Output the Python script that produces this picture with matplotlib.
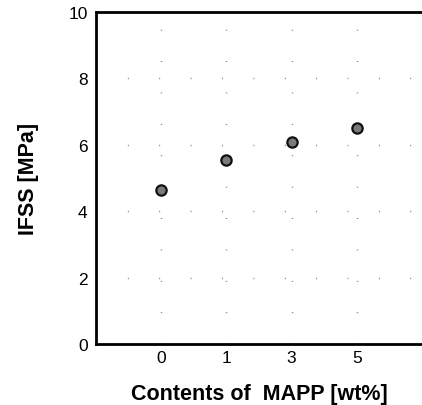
import numpy as np
import matplotlib.pyplot as plt

# data
contents = ['0', '1', '3', '5']
ifss = [4.65, 5.54, 6.09, 6.51]

plt.rcParams['font.family'] = ['Liberation Sans', 'DejaVu Sans']

fig = plt.figure(figsize=(4.22, 4.06), dpi=100)
ax = fig.add_axes([0.2275, 0.150, 0.7725, 0.818])

x = np.arange(len(contents))
ax.scatter(x, ifss, s=55, color='#7a7a7a', edgecolors='#111111', linewidths=1.6, zorder=3)

ax.set_xlim(-1, 4)
ax.set_ylim(0, 10)
ax.set_xticks(x)
ax.set_xticklabels(contents)
ax.set_yticks([0, 2, 4, 6, 8, 10])

# sparse dotted grid like the scanned original
ax.grid(True, color='#666666', linestyle=(0, (0.6, 22)), linewidth=1.0)

for side in ['top', 'left', 'bottom']:
    ax.spines[side].set_linewidth(2.0)
ax.spines['right'].set_visible(False)
ax.tick_params(axis='x', length=0, labelsize=12.5, pad=4)
ax.tick_params(axis='y', length=0, labelsize=12.5, pad=6)

ax.set_xlabel('Contents of  MAPP [wt%]', fontsize=15.5, fontweight='bold', labelpad=13)
ax.set_ylabel('IFSS [MPa]', fontsize=15.5, fontweight='bold', labelpad=21)

fig.savefig('out.png', dpi=100)
